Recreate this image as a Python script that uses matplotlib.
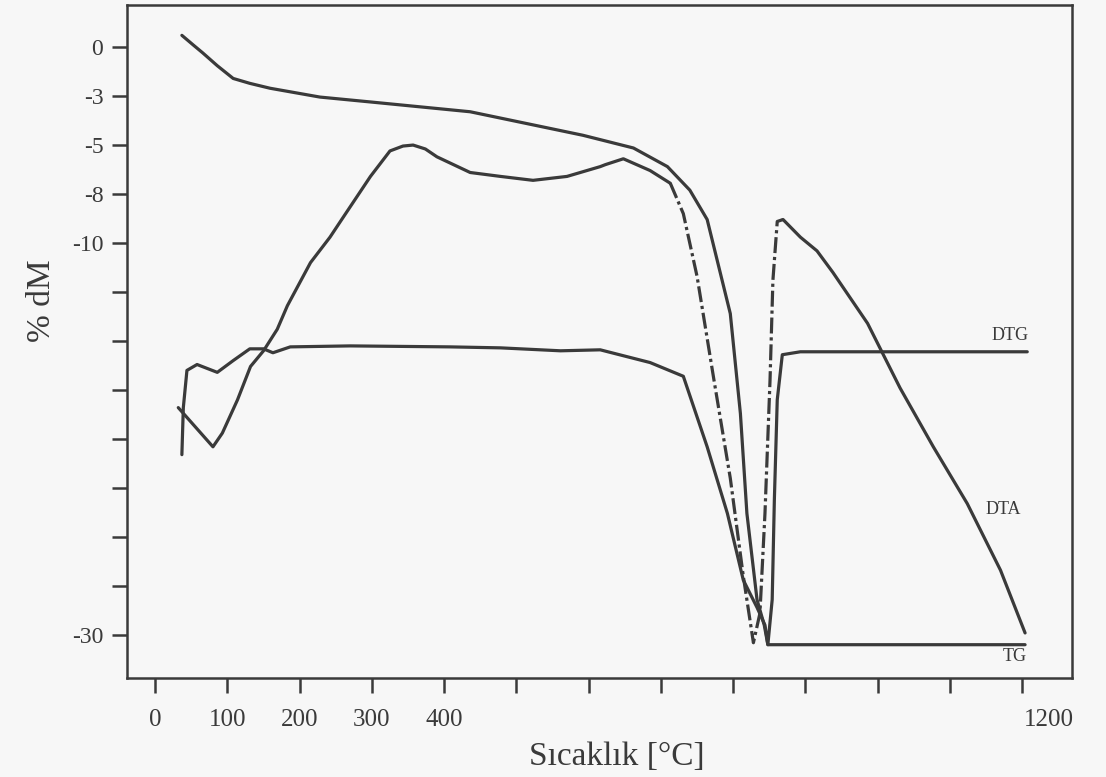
import numpy as np
import matplotlib
matplotlib.use("Agg")
import matplotlib.pyplot as plt
from matplotlib.transforms import ScaledTranslation

plt.rcParams.update({
    "font.family": ["Liberation Serif", "DejaVu Serif"],
    "axes.linewidth": 1.8,
    "xtick.major.width": 1.8,
    "ytick.major.width": 1.8,
})

INK = "#3a3a3a"

# TG curve (mass loss)
tg_temp = [37, 53, 66, 86, 108, 131, 159, 228, 298, 367, 436, 501, 592, 662,
           709, 740, 764, 782, 796, 810, 819, 833, 843, 848, 1204]
tg_dm = [0.6, 0.1, -0.3, -0.95, -1.6, -1.85, -2.1, -2.55, -2.8, -3.05, -3.3,
         -3.8, -4.5, -5.15, -6.1, -7.3, -8.8, -11.5, -13.6, -18.7, -23.8,
         -28.2, -29.5, -30.5, -30.5]

# DTG curve
dtg_temp = [37, 39, 44, 58, 86, 108, 131, 150, 163, 187, 270, 408, 478, 561,
            616, 685, 731, 764, 792, 814, 833, 844, 848, 854, 857, 861, 868,
            893, 1207]
dtg_dm = [-20.8, -18.4, -16.5, -16.2, -16.6, -16.0, -15.4, -15.4, -15.6, -15.3,
          -15.25, -15.3, -15.35, -15.5, -15.45, -16.1, -16.8, -20.4, -23.8,
          -27.2, -28.6, -29.5, -30.5, -28.2, -23.1, -18.0, -15.7, -15.55, -15.55]

# DTA curve, solid part before the dash-dot section
dta_temp = [32, 80, 93, 114, 132, 150, 169, 183, 215, 242, 260, 298, 325, 343,
            357, 374, 390, 436, 478, 523, 570, 616, 623, 648, 685, 713]
dta_dm = [-18.4, -20.4, -19.7, -18.0, -16.3, -15.5, -14.4, -13.2, -11.0, -9.7,
          -8.7, -6.6, -5.3, -5.05, -5.0, -5.2, -5.6, -6.4, -6.6, -6.8, -6.6,
          -6.1, -6.0, -5.7, -6.3, -6.95]

# DTA dash-dot section (the sharp endothermic peak)
dta_peak_temp = [713, 731, 750, 773, 796, 814, 828, 837, 844, 851, 855, 861, 869]
dta_peak_dm = [-6.95, -8.5, -11.7, -16.9, -22.0, -27.0, -30.4, -28.9, -23.8,
               -17.0, -11.9, -8.9, -8.8]

# DTA solid tail
dta_tail_temp = [869, 893, 916, 938, 986, 1031, 1077, 1124, 1170, 1204]
dta_tail_dm = [-8.8, -9.7, -10.4, -11.5, -14.1, -17.4, -20.4, -23.3, -26.7, -29.9]

y_ticks = np.arange(0, -30.1, -2.5)
y_labels = ["0", "-3", "-5", "-8", "-10", "", "", "", "", "", "", "", "-30"]
x_ticks = np.arange(0, 1201, 100)
x_labels = ["0", "100", "200", "300", "400", "", "", "", "", "", "", "", "1200"]

curve_labels = [("DTG", 1183, -14.7), ("DTA", 1174, -23.6), ("TG", 1190, -31.1)]


def main():
    fig = plt.figure(figsize=(11.06, 7.77), dpi=100, facecolor="#f7f7f7")
    ax = fig.add_axes([0.1148, 0.1274, 0.8545, 0.8662])
    ax.set_facecolor("#f7f7f7")

    style = dict(color=INK, lw=2.3, solid_joinstyle="round", solid_capstyle="round")
    ax.plot(tg_temp, tg_dm, **style)
    ax.plot(dtg_temp, dtg_dm, **style)
    ax.plot(dta_temp, dta_dm, **style)
    ax.plot(dta_peak_temp, dta_peak_dm, color=INK, lw=2.3,
            linestyle=(0, (5, 1.2, 1, 1.2)))
    ax.plot(dta_tail_temp, dta_tail_dm, **style)

    for text, x, y in curve_labels:
        ax.text(x, y, text, fontsize=13, color=INK, ha="center", va="center")

    ax.set_xlim(-39, 1269)
    ax.set_ylim(-32.2, 2.15)
    ax.set_xticks(x_ticks)
    ax.set_xticklabels(x_labels)
    ax.set_yticks(y_ticks)
    ax.set_yticklabels(y_labels)
    ax.tick_params(axis="x", direction="out", length=11, pad=11,
                   labelsize=18, colors=INK)
    ax.tick_params(axis="y", direction="out", length=11, pad=6,
                   labelsize=17, colors=INK)
    last = ax.get_xticklabels()[-1]
    last.set_transform(last.get_transform() + ScaledTranslation(0.27, 0, fig.dpi_scale_trans))

    for spine in ax.spines.values():
        spine.set_color(INK)

    ax.set_xlabel("Sıcaklık [°C]", fontsize=24, color=INK)
    ax.xaxis.set_label_coords(0.518, -0.095)
    ax.set_ylabel("% dM", fontsize=24, color=INK)
    ax.yaxis.set_label_coords(-0.074, 0.56)

    fig.savefig("out.png", dpi=100, facecolor=fig.get_facecolor())


if __name__ == "__main__":
    main()
